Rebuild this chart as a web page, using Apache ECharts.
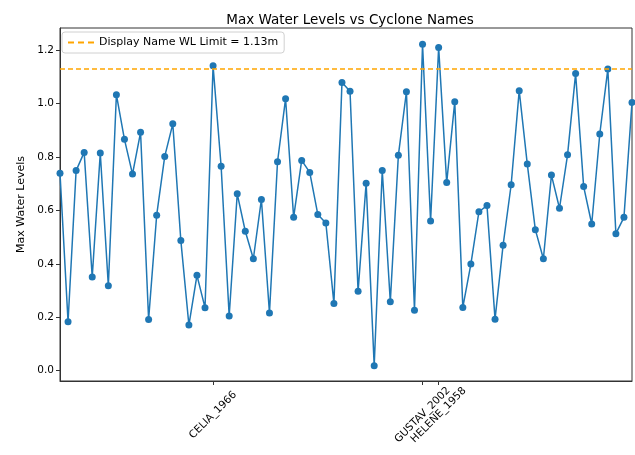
<!DOCTYPE html>
<html>
<head>
<meta charset="utf-8">
<script src="https://cdn.jsdelivr.net/npm/echarts@6/dist/echarts.min.js"></script>
<style>html,body{margin:0;padding:0;background:#fff}#c{width:635px;height:455px}</style>
</head>
<body>
<div id="c"></div>
<script>
const maxWaterLevels = [
  0.739, 0.183, 0.749, 0.817, 0.351, 0.815, 0.318, 1.033, 0.866, 0.736,
  0.892, 0.192, 0.582, 0.802, 0.924, 0.487, 0.171, 0.357, 0.236, 1.141,
  0.765, 0.205, 0.662, 0.522, 0.419, 0.641, 0.216, 0.782, 1.018, 0.574,
  0.787, 0.742, 0.585, 0.553, 0.252, 1.079, 1.046, 0.297, 0.702, 0.019,
  0.749, 0.258, 0.806, 1.044, 0.226, 1.222, 0.560, 1.210, 0.704, 1.007,
  0.237, 0.399, 0.595, 0.618, 0.193, 0.470, 0.696, 1.048, 0.774, 0.528,
  0.419, 0.732, 0.608, 0.808, 1.112, 0.689, 0.549, 0.886, 1.129, 0.513,
  0.574, 1.004
];
const labeledIndex = [19, 45, 47];
const labeledNames = ["CELIA_1966", "GUSTAV_2002", "HELENE_1958"];
const yTicks = [0.0, 0.2, 0.4, 0.6, 0.8, 1.0, 1.2];
const wlLimit = 1.13;
const limitName = "Display Name WL Limit = 1.13m";

const categories = maxWaterLevels.map((v, i) => {
  const k = labeledIndex.indexOf(i);
  return k >= 0 ? labeledNames[k] : "";
});
const showIdx = (i) => labeledIndex.indexOf(i) >= 0;

const chart = echarts.init(document.getElementById('c'), null, {renderer: 'canvas'});
const font = 'DejaVu Sans';
chart.setOption({
  animation: false,
  backgroundColor: '#fff',
  title: {
    text: 'Max Water Levels vs Cyclone Names',
    left: 345, top: 8, textAlign: 'center',
    textStyle: {fontFamily: font, fontSize: 13.5, fontWeight: 'normal', color: '#000'}
  },
  legend: {
    left: 62, top: 32,
    padding: [5, 6, 5, 6],
    itemWidth: 26, itemHeight: 10,
    borderColor: '#d0d0d0', borderWidth: 1, borderRadius: 3,
    backgroundColor: 'rgba(255,255,255,0.8)',
    textStyle: {fontFamily: font, fontSize: 11, color: '#000'},
    data: [{name: limitName, icon: 'path://M0,4h6v2h-6z M10,4h6v2h-6z M20,4h6v2h-6z', itemStyle: {color: '#ffa500'}}]
  },
  grid: {
    left: 60, right: 3, top: 28, bottom: 74,
    show: true, borderColor: '#333', borderWidth: 1, containLabel: false
  },
  xAxis: {
    type: 'category',
    data: categories,
    boundaryGap: false,
    axisLine: {onZero: false, lineStyle: {color: '#333'}},
    axisTick: {show: true, length: 4, interval: (i) => showIdx(i), lineStyle: {color: '#333'}},
    axisLabel: {
      interval: (i) => showIdx(i), rotate: 45, margin: 34,
      align: 'center', verticalAlign: 'middle',
      fontFamily: font, fontSize: 10.5, color: '#000'
    },
    splitLine: {show: false}
  },
  yAxis: {
    type: 'value',
    min: -0.0385, max: 1.2826,
    name: 'Max Water Levels', nameLocation: 'middle', nameGap: 32, nameRotate: 90,
    nameTextStyle: {fontFamily: font, fontSize: 11, color: '#000'},
    axisLine: {show: true, lineStyle: {color: '#333'}},
    axisTick: {show: true, length: 4, customValues: yTicks, lineStyle: {color: '#333'}},
    axisLabel: {customValues: yTicks, formatter: (v) => v.toFixed(1), fontFamily: font, fontSize: 10.5, color: '#000', margin: 6},
    splitLine: {show: false}
  },
  series: [
    {
      name: 'Max Water Levels',
      type: 'line',
      data: maxWaterLevels,
      symbol: 'circle', symbolSize: 7,
      showSymbol: true, showAllSymbol: true,
      itemStyle: {color: '#1f77b4'},
      lineStyle: {color: '#1f77b4', width: 1.5},
      clip: true, z: 3
    },
    {
      name: limitName,
      type: 'line',
      data: [],
      symbol: 'none',
      itemStyle: {color: '#ffa500'},
      lineStyle: {color: '#ffa500', type: 'dashed', width: 1.5},
      markLine: {
        silent: true, symbol: 'none', label: {show: false},
        lineStyle: {color: '#ffa500', type: [5, 3], width: 1.5},
        data: [{yAxis: wlLimit}]
      },
      z: 2
    }
  ]
});
</script>
</body>
</html>
